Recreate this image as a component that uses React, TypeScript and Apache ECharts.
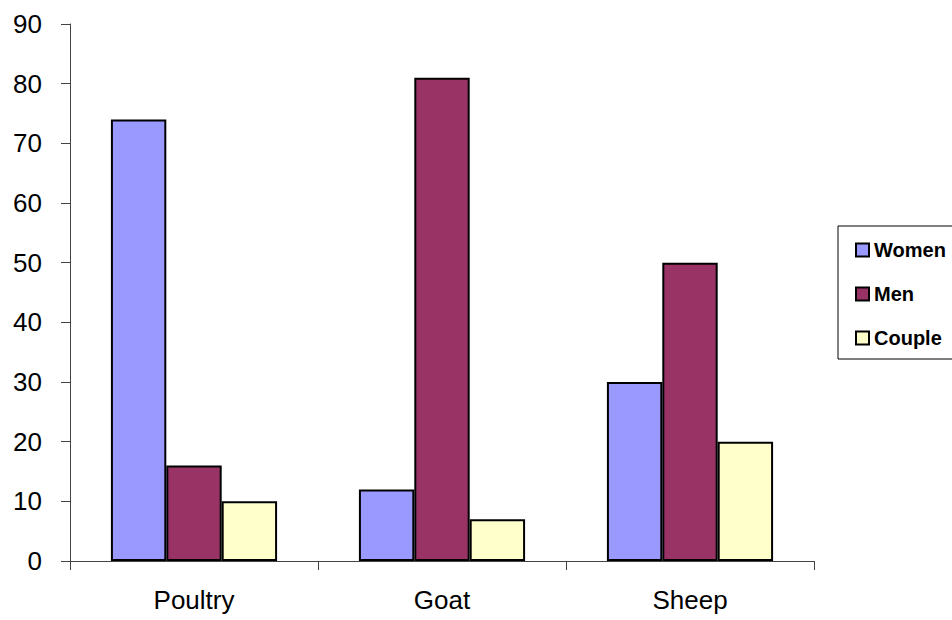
import React, { useEffect, useRef } from "react";
import * as echarts from "echarts";

const categories = ["Poultry", "Goat", "Sheep"];
const women = [74, 12, 30];
const men = [16, 81, 50];
const couple = [10, 7, 20];
const seriesNames = ["Women", "Men", "Couple"];
const colors = ["#9999FF", "#993366", "#FFFFCC"];

export default function App() {
  const ref = useRef<HTMLDivElement>(null);
  useEffect(() => {
    const chart = echarts.init(ref.current!, null, { renderer: "svg" });
    const font = "'Liberation Sans', Arial, sans-serif";
    const data = [women, men, couple];
    chart.setOption({
      animation: false,
      backgroundColor: "#ffffff",
      grid: { left: 70, right: 138, top: 24, bottom: 59, containLabel: false },
      legend: {
        orient: "vertical",
        left: 838,
        top: 226,
        padding: [14, 20, 11, 17],
        itemWidth: 13,
        itemHeight: 13,
        itemGap: 24,
        itemTextGap: 3,
        borderColor: "#000",
        borderWidth: 1,
        icon: "rect",
        data: seriesNames,
        textStyle: {
          fontFamily: font,
          fontWeight: "bold",
          fontSize: 20,
          lineHeight: 20,
          color: "#000",
        },
      },
      xAxis: {
        type: "category",
        data: categories,
        axisLine: { lineStyle: { color: "#444", width: 1 } },
        axisTick: { show: true, length: 9, alignWithLabel: false, lineStyle: { color: "#444" } },
        axisLabel: { fontFamily: font, fontSize: 26, color: "#000", margin: 26 },
      },
      yAxis: {
        type: "value",
        min: 0,
        max: 90,
        interval: 10,
        splitLine: { show: false },
        axisLine: { show: true, lineStyle: { color: "#444", width: 1 } },
        axisTick: { show: true, length: 9, lineStyle: { color: "#444" } },
        axisLabel: { fontFamily: font, fontSize: 26, color: "#000", margin: 28 },
      },
      series: seriesNames.map((name, i) => ({
        name,
        type: "bar",
        data: data[i],
        barGap: "0%",
        barCategoryGap: "33%",
        itemStyle: { color: colors[i], borderColor: "#000", borderWidth: 2 },
      })),
    });
    return () => chart.dispose();
  }, []);
  return (
    <div
      ref={ref}
      style={{ position: "fixed", left: 0, top: 0, width: 952, height: 620 }}
    />
  );
}
